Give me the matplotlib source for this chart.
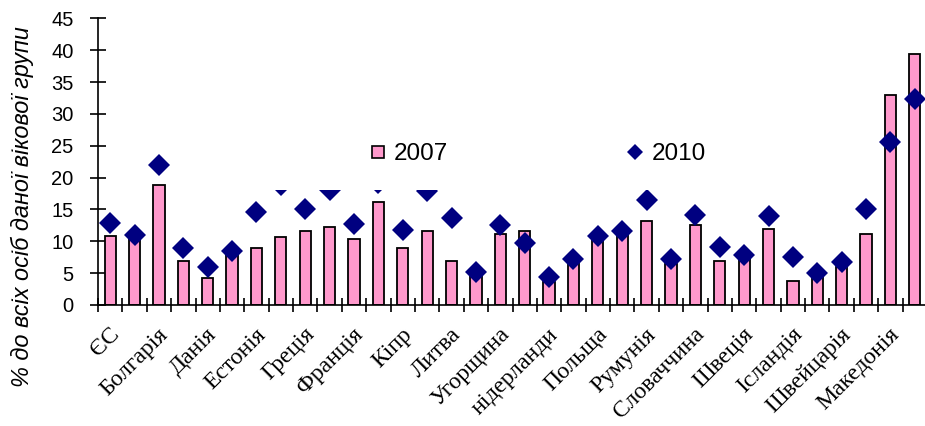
import numpy as np
import matplotlib
matplotlib.use("Agg")
import matplotlib.pyplot as plt
from matplotlib.lines import Line2D
from matplotlib.patches import Rectangle
from matplotlib.ticker import FixedLocator
from matplotlib.transforms import ScaledTranslation

# ---- data ----
tick_labels = ["ЄС", "Болгарія", "Данія", "Естонія", "Греція", "Франція", "Кіпр",
               "Литва", "Угорщина", "нідерланди", "Польща", "Румунія", "Словаччина",
               "Швеція", "Ісландія", "Швейцарія", "Македонія"]
n_categories = 34
values_2007 = [10.9, 10.3, 18.9, 6.9, 4.2, 8.0, 8.9, 10.6, 11.6, 12.2, 10.3, 16.2,
               8.9, 11.6, 6.9, 4.5, 11.2, 11.6, 3.6, 6.6, 10.2, 11.0, 13.2, 6.5,
               12.6, 6.9, 7.5, 11.9, 3.8, 4.5, 6.0, 11.2, 33.0, 39.4]
values_2010 = [12.9, 11.0, 21.9, 8.9, 6.0, 8.4, 14.6, 18.9, 15.0, 18.1, 12.7, 19.2,
               11.8, 17.9, 13.6, 5.2, 12.6, 9.7, 4.4, 7.2, 10.9, 11.6, 16.5, 7.2,
               14.2, 9.1, 7.8, 13.9, 7.5, 5.0, 6.8, 15.0, 25.6, 32.4]
series_names = ["2007", "2010"]
y_label = "% до всіх осіб даної вікової групи"

PINK = "#FF99CC"
NAVY = "#000080"

fig = plt.figure(figsize=(9.25, 4.26), dpi=100)
ax = fig.add_axes([98 / 925, 121 / 426, 829 / 925, 286.7 / 426])

x = np.arange(n_categories)
ax.bar(x, values_2007, width=0.46, color=PINK, edgecolor="black", linewidth=1.3, zorder=2)
ax.plot(x, values_2010, linestyle="none", marker="D", markersize=11.5,
        color=NAVY, markeredgewidth=0, zorder=3)

ax.set_xlim(-0.5, n_categories - 0.5)
ax.set_ylim(0, 45)
ax.set_yticks(np.arange(0, 46, 5))

for s in ["top", "right"]:
    ax.spines[s].set_visible(False)
for s in ["left", "bottom"]:
    ax.spines[s].set_linewidth(1.2)

# x axis: labels on every other category, tick marks on category boundaries
ax.set_xticks(x[::2])
ax.set_xticklabels(tick_labels, rotation=45, ha="right", va="center",
                   rotation_mode="anchor", family="Liberation Serif", fontsize=17)
ax.tick_params(axis="x", which="major", length=0, pad=19)
shift = ScaledTranslation(6 / 100, 0, fig.dpi_scale_trans)
for lab in ax.get_xticklabels():
    lab.set_transform(lab.get_transform() + shift)
ax.xaxis.set_minor_locator(FixedLocator(np.arange(-0.5, n_categories, 1.0)))
ax.tick_params(axis="x", which="minor", direction="inout", length=10, width=1.2)

ax.tick_params(axis="y", direction="inout", length=11, width=1.2, pad=12,
               labelsize=14.5)
for lab in ax.get_yticklabels():
    lab.set_family("Liberation Sans")

fig.text(22 / 925, 1 - 207 / 426, y_label, rotation=90, ha="center", va="center",
         family="Liberation Sans", style="italic", fontsize=16.9)

# white legend area
ax.add_patch(Rectangle((0.198, 0.401), 0.56, 0.3, transform=ax.transAxes,
                       facecolor="white", edgecolor="none", zorder=4))

handles = [
    Line2D([], [], linestyle="none", marker="s", markersize=9.2,
           markerfacecolor=PINK, markeredgecolor="black", markeredgewidth=1.2),
    Line2D([], [], linestyle="none", marker="D", markersize=8.0,
           markerfacecolor=NAVY, markeredgewidth=0),
]
leg = ax.legend(handles, series_names, ncol=2, frameon=False,
                loc="center left", bbox_to_anchor=(371 / 925, 1 - 154 / 426),
                bbox_transform=fig.transFigure, borderpad=0, borderaxespad=0,
                handlelength=0.6, handletextpad=0.35, columnspacing=7.4,
                prop={"family": "Liberation Sans", "size": 17.5})
leg.set_zorder(5)

fig.savefig("out.png", dpi=100)
